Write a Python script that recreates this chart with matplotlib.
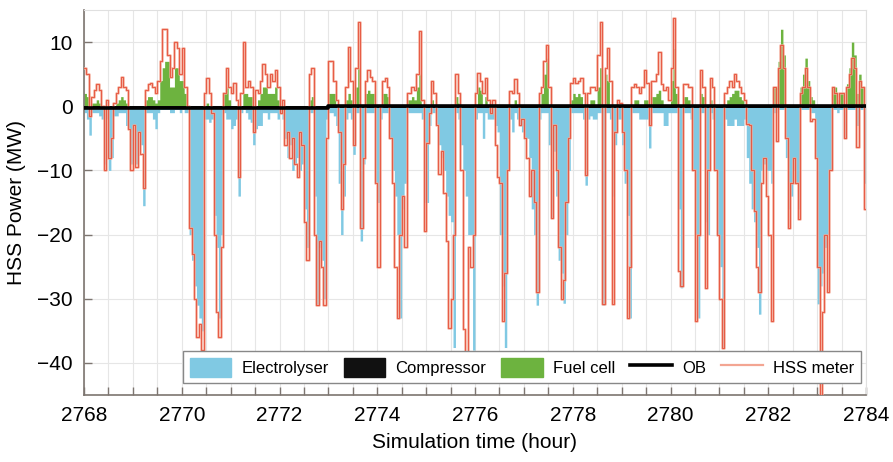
import numpy as np
import matplotlib
matplotlib.use("Agg")
import matplotlib.pyplot as plt
from matplotlib.patches import Patch
from matplotlib.lines import Line2D

plt.rcParams['font.family'] = ['Liberation Sans', 'DejaVu Sans']

# simulation start, step (hour)
t_start = 2768
dt = 0.05

# HSS meter (MW), one value every 3 minutes, hour by hour
hss = (
    [6, 5, -1.5, 1.5, 2.5, 3.5, 2.5, 0, -10, 1, -8, -5, 0.5, 2, 3, 4.5, 3, 2.5, -3.5, -10]
    + [-3, -9.5, -4, -7.5, -12.7, 2.5, 3.5, 3.6, 3, 2, 4, 7, 12, 12, 8, 4.5, 6, 10, 9, 5]
    + [9, 3, 0, -19, -23, -30, -36, -34, -38, 2, 4.4, 2, -1, -20, -32, -36, -22, 2, 6, 3]
    + [2, 3.6, 1, -11, 2, 10, 3, 4, 3, -4, 2.5, 2, 4, 6.6, 5, 3, 5, 4, 5.6, 3]
    + [-1, 1, -6, -4, -8, -5, -9, -11, -4, -6, -18, -24, 5, 6, -20, -31, -21, -25, -31, -5]
    + [7, 7, 4, 1, -4, -16, -9, 3, 9.3, 4, -6, 6, 13.2, -19, -8, 4, 5.6, 4.5, 4, -12]
    + [-25, 0, 4, 4.4, 3, -5, -12, -25, -33, -20, -14, -22, 2, 2, 3, 2.5, 5, 11.7, 1, -19.5]
    + [-5.7, -1, 4, 2, -3, -10.5, -7, -13.5, -21, -34.5, -30, -20, 5, 2, -10, -34.7, -39, -22, -25, -20]
    + [2, 5.2, 4, 2, 4.4, 1, -1, 1, -6, -11, -12, -33.5, -26, -10, 2.3, 2, 4.2, 2, -3, -2]
    + [-5, -8, -14, -10, -15, -29, 2, 3, 7, 9.6, 3, -17.4, -3, -10, -22, -30, -27, -15, -5, 3.6]
    + [4.4, 3.6, 4, 4.4, 2, -10.7, 2, 3, 3, 2.5, 8, 13.2, -30.8, 6, 9, 4, -30.8, -4, 1, 0.5]
    + [-4, -10, -33, -25, 3, 3.5, 3, 2, 3, 5.6, 3.6, -3, 4, 4, 5, 8.5, 3.5, 2.5, 3, 1]
    + [6, 13.7, 3, -25.7, -28, 3.5, 3.5, 3, 3, -10, -33.5, -20, 5.6, 3, -28.3, -10, 4.4, 3, -10, -20]
    + [-30, -37.6, 2, 3, 4, 3, 5, 4, 3, 2, 1, -2.8, -3, -10, -16.3, -25, -29, -12, -8, -14]
    + [-20, -33.5, 3, -5.4, 6, 9.6, 6, -5, -19, -12, -8, -12, -17.5, 2, 3, 6, 3, -2.3, -2, -8]
    + [-25, -46, -32, -20, -29, -10, 3, 2, 0, 2, 2, -5, 3, 5, 7.5, 6, -6.3, 4, 3, -16]
)

electrolyser = (
    [-1, -2, -4.5, -1, -1, -1, -1.5, -2, -9, -2, -10, -8, -1.5, -1.5, -1, -1, -1, -3, -3.5, -9]
    + [-3, -9, -4, -6, -15.5, -1, -1, -1, -2, -3.5, -1, -0.5, -0.5, -0.5, -0.5, -1, -1, -0.5, -0.5, -1]
    + [-0.5, -1, -1, -20, -24, -28, -31, -33, -35, -2, -2, -2.5, -2, -17, -22, -33, -20, -1, -2, -2]
    + [-3.5, -3, -2, -14, -1, -0.5, -1, -2, -2.5, -6, -3.5, -3, -3, -1, -1, -2, -1, -1, -1, -2]
    + [-1, -2, -5, -8, -6, -10, -9, -8, -10, -9, -16, -22, -1, -1, -14, -31, -22, -24, -30, -2]
    + [-1, -1, -1.5, -3, -12, -20, -14, -2, -1, -2, -7.5, -1, -1, -21, -9, -1, -1, -1, -1, -12]
    + [-15, -2, -1, -1, -1, -5, -10, -14, -20, -33, -16, -12, -1, -1, -1, -1, -1, -1, -2, -15]
    + [-15, -3, -1, -1, -3, -6, -8, -10, -14, -17, -18, -37.6, -1, -2, -6, -10, -14, -20, -20, -38]
    + [-2, -1, -1, -5, -1, -2, -2, -2, -3, -4, -20, -28, -37.6, -10, -2, -4, -1, -2, -3, -4]
    + [-5, -5, -8, -16, -20, -31, -2, -1, -1, -1, -6, -17.4, -7, -14, -24, -26, -30.7, -20, -10, -1]
    + [-1, -1, -1, -1, -2, -12.3, -2, -1.5, -2, -2, -1, -1, -31, -1, -1, -2, -14, -6, -2, -2]
    + [-6, -12, -17, -33, -1, -1, -1, -2, -2, -2, -2, -6.5, -1, -1, -1, -1, -1, -3, -3, -1]
    + [-1, -1, -1, -16, -28.3, -1, -1, -1, -2, -10, -20, -33, -1, -1, -18, -20, -1, -2, -10, -20]
    + [-25, -37.6, -2, -3, -3, -3, -2, -3, -3, -3, -2, -8, -12, -16, -18, -22, -32.4, -10, -9, -10]
    + [-10, -12, -1, -1, -0.5, -0.5, -0.5, -8, -16, -14, -10, -12, -16, -0.5, -0.5, -0.5, -0.5, -1, -1, -8]
    + [-30.8, -28, -26, -22, -20, -10, -0.5, -0.5, -1, -0.5, -0.5, -5, -0.5, -0.5, -0.5, -0.5, -3, -0.5, -0.5, -12]
)

fuel_cell = (
    [2, 1.5, 0, 0.5, 0.5, 1, 0.5, 0, 0, 0, 0, 0, 0, 0.5, 1, 1.5, 1, 0.5, 0, 0]
    + [0, 0, 0, 0, 0, 1, 1.5, 1.5, 1, 0.5, 1, 4, 6, 7, 7, 3, 3, 6, 6, 4]
    + [4, 2, 0, 0, 0, 0, 0, 0, 0, 0, 0.5, 0, 0, 0, 0, 0, 0, 2, 3, 1]
    + [0, 0, 0, 0, 0, 2, 2, 1.5, 1.5, 0, 0, 1, 2, 3, 3, 2, 2, 2, 3, 1]
    + [0, 0, 0, 0, 0, 0, 0, 0, 0, 0, 0, 0, 1, 1.5, 0, 0, 0, 0, 0, 0]
    + [2, 2, 2, 0, 0, 0, 0, 1, 2, 1, 0, 3, 6, 0, 0, 2, 2.5, 2, 2, 0]
    + [0, 0, 2, 2, 1.5, 0, 0, 0, 0, 0, 0, 0, 1, 1, 1.5, 1, 3, 5, 0, 0]
    + [0, 0, 1, 0, 0, 0, 0, 0, 0, 0, 0, 0, 1.5, 0.5, 0, 0, 0, 0, 0, 0]
    + [0, 3, 2.5, 0, 1.5, 0, 0, 0, 0, 0, 0, 0, 0, 0, 0, 0, 1, 0, 0, 0]
    + [0, 0, 0, 0, 0, 0, 0, 2, 5, 7.5, 0, 0, 0, 0, 0, 0, 0, 0, 0, 1]
    + [2, 1.5, 2, 1.5, 0, 0, 0, 1, 1, 0, 3, 6, 0, 5, 4, 0, 0, 0, 0, 0]
    + [0, 0, 0, 0, 0, 1, 1, 0, 0, 1, 1, 0, 1.5, 1.5, 2, 2.5, 1, 0, 0, 0]
    + [4, 9, 2, 0, 0, 1.5, 1.5, 1, 0, 0, 0, 0, 2, 1.5, 0, 0, 1, 0, 0, 0]
    + [0, 0, 0, 1, 1.5, 2, 2.5, 2.5, 1.5, 1, 0, 0, 0, 0, 0, 0, 0, 0, 0, 0]
    + [0, 0, 3, 3, 7, 12, 8, 0, 0, 0, 0, 0, 0, 3, 5, 7.5, 4, 1.5, 1, 0]
    + [0, 0, 0, 0, 0, 0, 3, 3, 1, 2, 2, 0, 3.5, 6, 10, 8, 2, 5, 3, 0]
)

compressor = [-0.3, -0.3]
compressor_times = [2768, 2784]

ob_times = [2768, 2773, 2773, 2784]
ob_values = [-0.35, -0.35, 0, 0]

# step series: repeat last value to close the final interval
t = t_start + dt * np.arange(len(hss) + 1)
hss_s = np.array(hss + hss[-1:])
el_s = np.array(electrolyser + electrolyser[-1:])
fc_s = np.array(fuel_cell + fuel_cell[-1:])

c_el = '#80C9E3'
c_fc = '#6DB33F'
c_hss = '#E4432C'
c_hss_light = '#F3A592'

fig = plt.figure(figsize=(8.93, 4.62), dpi=100)
ax = fig.add_axes([84 / 893, 1 - 395 / 462, 782 / 893, 385 / 462])

ax.fill_between(t, 0, el_s, step='post', color=c_el, lw=0, zorder=2)
ax.fill_between(t, 0, fc_s, step='post', color=c_fc, lw=0, zorder=2)
ax.fill_between(compressor_times, 0, compressor, color='#111111', lw=0, zorder=3)
ax.plot(t, hss_s, drawstyle='steps-post', color=c_hss_light, lw=1.8, alpha=0.9, zorder=4)
ax.plot(t, hss_s, drawstyle='steps-post', color=c_hss, lw=0.6, alpha=0.9, zorder=5)
ax.plot(ob_times, ob_values, color='black', lw=2.6, zorder=6)

ax.set_xlim(2768, 2784)
ax.set_ylim(-45, 15)
ax.set_xticks(np.arange(2768, 2785, 2))
ax.set_xticks(np.arange(2768, 2784.01, 0.5), minor=True)
ax.set_yticks([-40, -30, -20, -10, 0, 10])
ax.grid(True, which='both', axis='x', color='#e6e6e6', lw=0.8, zorder=0)
ax.grid(True, which='major', axis='y', color='#e6e6e6', lw=0.8, zorder=0)
ax.set_axisbelow(True)

ax.tick_params(axis='both', which='both', direction='in', length=6, width=1,
               color='#7d7570', labelsize=15, pad=8)
for s in ['left', 'bottom']:
    ax.spines[s].set_color('#7d7570')
    ax.spines[s].set_linewidth(1.2)
for s in ['top', 'right']:
    ax.spines[s].set_color('#e0e0e0')

ax.set_xlabel('Simulation time (hour)', fontsize=15, labelpad=6)
ax.set_ylabel('HSS Power (MW)', fontsize=15, labelpad=8)

handles = [
    Patch(facecolor=c_el, edgecolor=c_el),
    Patch(facecolor='#111111', edgecolor='#111111'),
    Patch(facecolor=c_fc, edgecolor=c_fc),
    Line2D([], [], color='black', lw=2.6),
    Line2D([], [], color=c_hss_light, lw=1.6),
]
labels = ['Electrolyser', 'Compressor', 'Fuel cell', 'OB', 'HSS meter']
leg = ax.legend(handles, labels, ncol=5, loc='lower right',
                bbox_to_anchor=(0.993, 0.03), borderaxespad=0,
                fontsize=12, handlelength=2.5, handleheight=1.4,
                columnspacing=0.9, handletextpad=0.6, fancybox=False,
                framealpha=1, edgecolor='#888888', borderpad=0.4)
leg.get_frame().set_linewidth(1.0)
leg.set_zorder(10)

fig.savefig('out.png', dpi=100)
